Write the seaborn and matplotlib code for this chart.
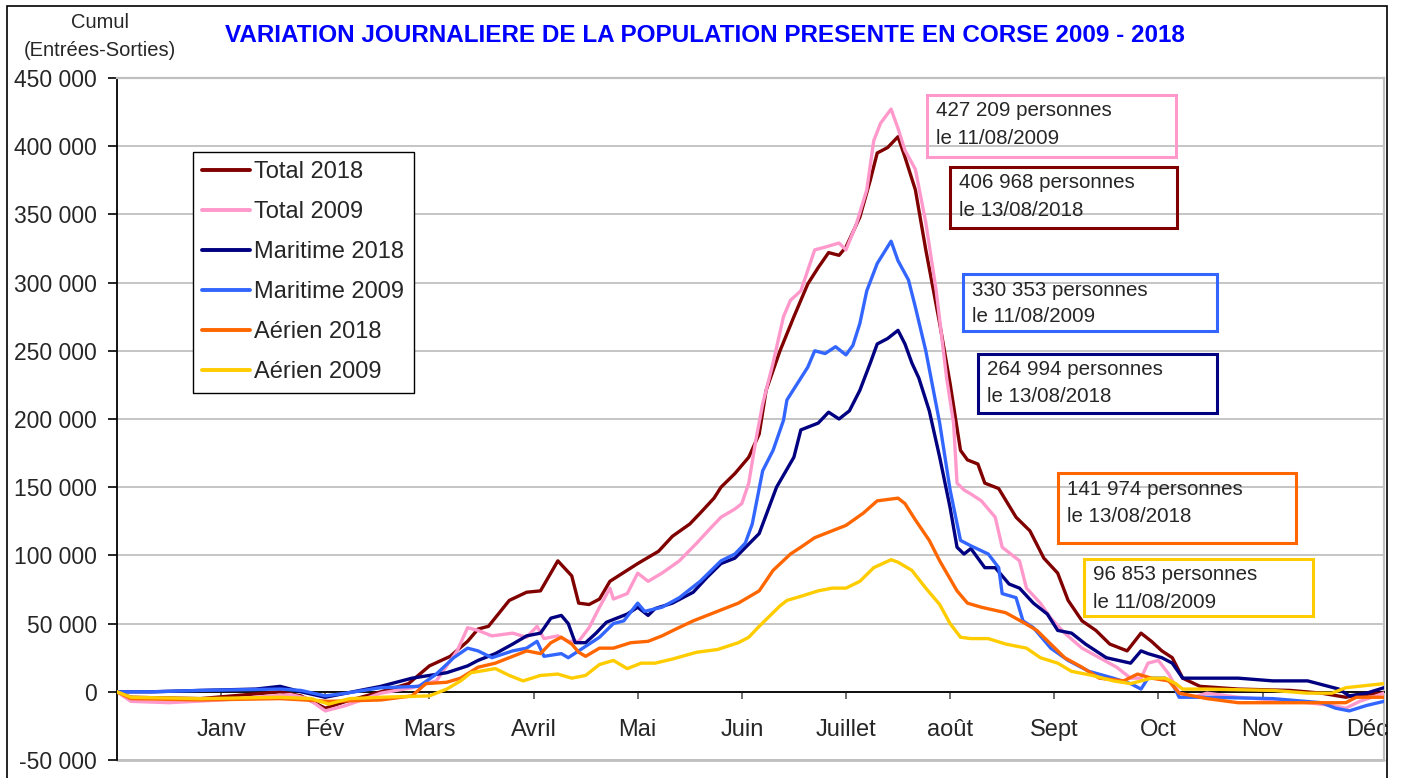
import numpy as np
import pandas as pd
import matplotlib.pyplot as plt
import matplotlib.ticker as mticker
from matplotlib.patches import Rectangle
import seaborn as sns

# jour de l'année / cumul en milliers de personnes
t18_day = [0, 4, 24, 47, 53, 60, 66, 76, 84, 90, 96, 101, 104, 107, 113, 118, 122, 127, 131, 133,
           136, 139, 142, 150, 156, 160, 165, 168, 172, 174, 178, 182, 185, 187, 191, 195, 199, 202, 205, 208,
           210, 214, 217, 219, 222, 225, 227, 230, 233, 237, 240, 243, 245, 248, 250, 254, 259, 263, 267, 271,
           274, 278, 282, 286, 291, 295, 298, 301, 304, 307, 312, 323, 338, 347, 354, 358, 365]
t18_val = [0, -4, -5, 0, -3, -12, -7, 0, 6, 19, 26, 37, 46, 48, 67, 73, 74, 96, 85, 65,
           64, 68, 81, 94, 103, 114, 123, 131, 142, 150, 160, 172, 189, 221, 250, 275, 299, 311, 322, 320,
           326, 348, 375, 395, 399, 406.968, 392, 368, 324, 270, 226, 177, 170, 167, 153, 149, 128, 118, 98, 87,
           67, 52, 45, 35, 30, 43, 37, 30, 25, 10, 4, 2, 1, -1, -4, -2, -1]

t09_day = [0, 4, 15, 30, 45, 50, 55, 60, 66, 76, 85, 92, 98, 101, 104, 108, 114, 118, 121, 123,
           127, 130, 133, 136, 139, 142, 143, 147, 150, 153, 157, 162, 167, 171, 174, 178, 180, 182, 184, 186,
           189, 192, 194, 197, 199, 201, 204, 208, 210, 213, 216, 218, 220, 223, 225, 227, 230, 233, 236, 239,
           241, 242, 244, 246, 249, 253, 255, 260, 262, 266, 269, 273, 278, 283, 288, 292, 295, 297, 300, 303,
           306, 310, 314, 323, 343, 350, 354, 358, 365]
t09_val = [0, -7, -8, -6, -3, -2, -5, -14, -10, -1, 3, 8, 30, 47, 45, 41, 43, 40, 48, 39,
           41, 37, 37, 47, 62, 76, 68, 72, 87, 81, 87, 96, 109, 120, 128, 134, 138, 153, 184, 211,
           241, 275, 287, 294, 309, 324, 326, 329, 324, 343, 368, 404, 417, 427.209, 413, 397, 383, 344, 294, 230,
           197, 153, 148, 145, 140, 128, 106, 96, 76, 65, 54, 43, 32, 25, 18, 10, 10, 21, 23, 13,
           -1, -4, -1, -4, -8, -10, -12, -7, -1]

m18_day = [0, 10, 24, 40, 47, 53, 60, 66, 76, 85, 90, 95, 101, 104, 109, 114, 118, 122, 125, 128,
           130, 132, 135, 138, 141, 144, 147, 150, 153, 155, 160, 166, 170, 174, 178, 185, 190, 195, 197, 202,
           205, 208, 211, 214, 217, 219, 222, 225, 227, 229, 231, 234, 237, 240, 242, 244, 246, 250, 253, 257,
           260, 264, 268, 271, 275, 279, 285, 292, 295, 297, 301, 304, 307, 312, 323, 333, 343, 352, 355, 360,
           365]
m18_val = [0, 0, 1, 2, 4, 0, -4, -1, 4, 10, 12, 14, 19, 23, 28, 35, 41, 43, 54, 56,
           50, 36, 36, 43, 51, 54, 57, 62, 56, 61, 65, 73, 84, 94, 98, 116, 150, 172, 192, 197,
           205, 200, 206, 221, 241, 255, 259, 264.994, 255, 241, 230, 206, 172, 135, 106, 101, 105, 91, 91, 79,
           76, 65, 57, 45, 43, 35, 25, 21, 30, 28, 25, 21, 10, 10, 10, 8, 8, 2, -3, -1,
           3]

m09_day = [0, 10, 24, 47, 53, 60, 66, 76, 87, 92, 97, 101, 104, 108, 114, 118, 121, 123, 128, 130,
           133, 136, 139, 143, 146, 150, 152, 157, 162, 168, 174, 178, 181, 183, 186, 189, 192, 193, 196, 199,
           201, 204, 207, 210, 212, 214, 216, 219, 223, 225, 228, 230, 233, 237, 240, 243, 246, 251, 254, 255,
           259, 261, 264, 269, 274, 280, 287, 292, 295, 297, 302, 304, 306, 314, 333, 347, 351, 355, 360, 365]
m09_val = [0, 0, 1, 2, 1, -3, -1, 3, 4, 13, 25, 32, 30, 25, 30, 32, 37, 26, 28, 25,
           30, 35, 40, 50, 52, 65, 59, 62, 69, 81, 96, 101, 109, 123, 162, 177, 199, 214, 226, 238,
           250, 248, 253, 247, 254, 270, 294, 314, 330.353, 316, 302, 282, 250, 197, 148, 111, 107, 101, 91, 72,
           69, 52, 47, 32, 23, 15, 10, 6, 2, 10, 10, 6, -4, -4, -5, -8, -12, -14, -10, -7]

a18_day = [0, 4, 24, 47, 61, 76, 85, 89, 95, 99, 104, 109, 114, 118, 122, 125, 128, 131, 133, 135,
           139, 143, 148, 153, 157, 161, 166, 173, 179, 185, 189, 194, 197, 201, 206, 210, 215, 219, 225, 227,
           230, 234, 237, 242, 245, 249, 256, 261, 265, 269, 273, 278, 283, 290, 294, 298, 303, 306, 314, 323,
           343, 354, 357, 365]
a18_val = [0, -5, -6, -5, -7, -6, -3, 6, 7, 10, 18, 21, 26, 30, 28, 36, 40, 35, 29, 26,
           32, 32, 36, 37, 41, 46, 52, 59, 65, 74, 89, 101, 106, 113, 118, 122, 131, 140, 141.974, 138,
           126, 111, 96, 74, 65, 62, 58, 51, 45, 35, 25, 18, 10, 8, 13, 10, 8, -1, -5, -8,
           -8, -8, -4, -4]

a09_day = [0, 4, 24, 47, 56, 61, 67, 76, 90, 95, 99, 102, 109, 113, 117, 122, 127, 131, 135, 139,
           143, 147, 151, 155, 160, 167, 173, 179, 182, 185, 191, 193, 197, 202, 206, 210, 214, 218, 223, 225,
           229, 233, 237, 240, 243, 246, 251, 256, 262, 266, 271, 275, 281, 287, 292, 298, 302, 305, 307, 314,
           333, 343, 350, 354, 365]
a09_val = [0, -4, -5, -4, -5, -9, -5, -4, -3, 2, 8, 14, 17, 12, 8, 12, 13, 10, 12, 20,
           23, 17, 21, 21, 24, 29, 31, 36, 40, 48, 63, 67, 70, 74, 76, 76, 81, 91, 96.853, 95,
           89, 76, 64, 50, 40, 39, 39, 35, 32, 25, 21, 15, 12, 8, 6, 10, 10, 6, 2, 2,
           1, -1, -1, 3, 6]

series = ["Total 2018", "Total 2009", "Maritime 2018", "Maritime 2009", "Aérien 2018", "Aérien 2009"]
colors = ["#800000", "#FF99CC", "#000080", "#3366FF", "#FF6600", "#FFCC00"]
mois = ["Janv", "Fév", "Mars", "Avril", "Mai", "Juin", "Juillet", "août", "Sept", "Oct", "Nov", "Déc"]

pic_val = [427209, 406968, 330353, 264994, 141974, 96853]
pic_date = ["11/08/2009", "13/08/2018", "11/08/2009", "13/08/2018", "13/08/2018", "11/08/2009"]
pic_color = ["#FF99CC", "#800000", "#3366FF", "#000080", "#FF6600", "#FFCC00"]

days_all = [t18_day, t09_day, m18_day, m09_day, a18_day, a09_day]
vals_all = [t18_val, t09_val, m18_val, m09_val, a18_val, a09_val]
frames = []
for name, d, v in zip(series, days_all, vals_all):
    frames.append(pd.DataFrame({"jour": d, "cumul": np.array(v) * 1000, "serie": name}))
df = pd.concat(frames, ignore_index=True)

sns.set_style("white")
plt.rcParams["font.family"] = ["Liberation Sans", "DejaVu Sans"]

W, H = 1405, 778
fig = plt.figure(figsize=(W / 100, H / 100), dpi=100)
ax = fig.add_axes([117 / W, (H - 760) / H, (1384 - 117) / W, (760 - 78) / H])

ax.grid(axis="y", color="#c0c0c0", lw=1.3)
ax.grid(axis="x", visible=False)
ax.set_axisbelow(True)
sns.lineplot(data=df, x="jour", y="cumul", hue="serie", hue_order=series,
             palette=dict(zip(series, colors)), lw=2.4, estimator=None, sort=True,
             ax=ax, zorder=3)
for line in ax.get_lines():
    line.set_solid_joinstyle("round")

ax.set_xlim(0, 365)
ax.set_ylim(-50000, 450000)
ax.set_yticks(np.arange(-50000, 450001, 50000))
ax.yaxis.set_major_formatter(mticker.FuncFormatter(lambda v, p: f"{int(v):,}".replace(",", " ")))
ax.set_xticks(np.arange(30, 361, 30))
ax.set_xticklabels(mois)
ax.set_xlabel("")
ax.set_ylabel("")
ax.axhline(-50000, color="#c0c0c0", lw=2.0, clip_on=False, zorder=1)

ax.spines["bottom"].set_position(("data", 0))
ax.spines["bottom"].set_color("black")
ax.spines["bottom"].set_linewidth(1.3)
ax.spines["left"].set_color("black")
ax.spines["left"].set_linewidth(1.3)
for s in ["top", "right"]:
    ax.spines[s].set_color("#c0c0c0")
    ax.spines[s].set_linewidth(1.6)

ax.tick_params(axis="x", direction="out", length=5, width=1.2, color="#555555",
               pad=14.5, labelsize=17, bottom=True)
ax.tick_params(axis="y", direction="out", length=6.5, width=1.2, color="black",
               pad=8, labelsize=16.5, left=True)

leg = ax.legend(loc="upper left", bbox_to_anchor=(0.06, 0.8915), borderaxespad=0,
                fontsize=17, frameon=True, fancybox=False, edgecolor="black", framealpha=1,
                handlelength=2.0, handletextpad=0.2, labelspacing=0.76, borderpad=0.4)
leg.get_frame().set_linewidth(1.0)
for line in leg.get_lines():
    line.set_linewidth(2.8)

fig.text(705 / W, 1 - 35 / H, "VARIATION JOURNALIERE DE LA POPULATION PRESENTE EN CORSE 2009 - 2018",
         ha="center", va="center", fontsize=17.5, fontweight="bold", color="#0000FF")
fig.text(100 / W, 1 - 22 / H, "Cumul", ha="center", va="center", fontsize=14.5)
fig.text(100 / W, 1 - 50 / H, "(Entrées-Sorties)", ha="center", va="center", fontsize=14.5)

# cadres des maxima
boites = [(927, 95, 1176, 157), (950, 167, 1177, 228), (963, 274, 1217, 331),
          (978, 354, 1217, 413), (1058, 473, 1296, 543), (1084, 559, 1313, 616)]
for (x0, y0, x1, y1), val, date, col in zip(boites, pic_val, pic_date, pic_color):
    fig.add_artist(Rectangle((x0 / W, 1 - y1 / H), (x1 - x0) / W, (y1 - y0) / H,
                             transform=fig.transFigure, fill=False, edgecolor=col, lw=2.2))
    txt = f"{val:,}".replace(",", " ") + " personnes"
    fig.text((x0 + 9) / W, 1 - (y0 + 16) / H, txt, ha="left", va="center", fontsize=14.8)
    fig.text((x0 + 9) / W, 1 - (y0 + 43) / H, "le " + date, ha="left", va="center", fontsize=14.8)

fig.add_artist(Rectangle((7 / W, -0.05), (1387 - 7) / W, 1 - 6 / H + 0.05,
                         transform=fig.transFigure, fill=False, edgecolor="black", lw=1.2))

fig.savefig("out.png", dpi=100)
